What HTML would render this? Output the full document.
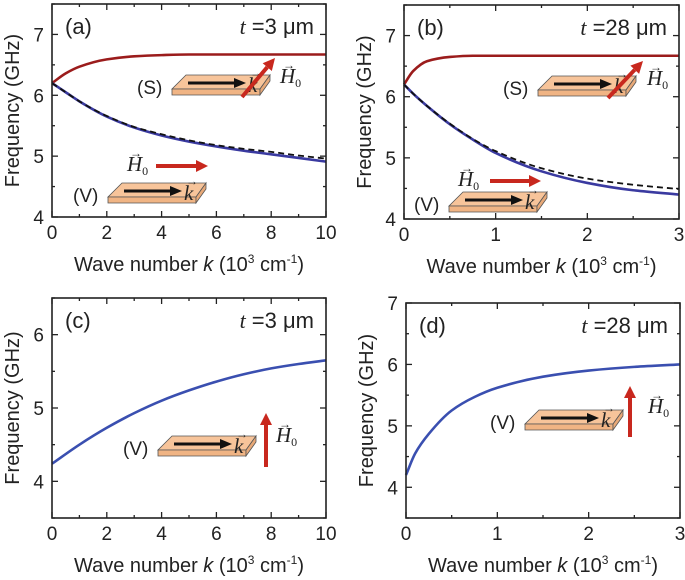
<!DOCTYPE html>
<html><head><meta charset="utf-8"><style>
body{margin:0;background:#fff}
svg{display:block;font-family:"Liberation Sans",sans-serif}
</style></head><body>
<svg id="fig" width="685" height="580" viewBox="0 0 685 580"></svg>
<script>
// Panel (a) data, t = 3 µm
const aK=[0,0.5,1,2,3,4,5,6,7,8,9,10];
const aS=[6.2,6.36,6.47,6.59,6.64,6.66,6.67,6.67,6.67,6.67,6.67,6.67];
const aV=[6.2,6.05,5.9,5.65,5.47,5.34,5.24,5.16,5.09,5.03,4.97,4.91];
const aVd=[6.2,6.05,5.9,5.66,5.48,5.36,5.26,5.18,5.12,5.07,5.01,4.96];
// Panel (b) data, t = 28 µm
const bK=[0,0.1,0.25,0.5,0.75,1,1.5,2,2.5,3];
const bS=[6.2,6.42,6.58,6.65,6.67,6.67,6.67,6.67,6.67,6.67];
const bV=[6.2,6.05,5.85,5.55,5.3,5.08,4.78,4.59,4.47,4.4];
const bVd=[6.2,6.05,5.85,5.56,5.31,5.11,4.83,4.66,4.56,4.49];
// Panel (c)
const cK=[0,1,2,3,4,5,6,7,8,9,10];
const cV=[4.24,4.5,4.73,4.93,5.1,5.24,5.36,5.46,5.54,5.6,5.65];
// Panel (d)
const dK=[0,0.1,0.25,0.5,0.75,1,1.5,2,2.5,3];
const dV=[4.2,4.55,4.87,5.25,5.47,5.62,5.8,5.9,5.96,6.0];
const xTicksA=["0","2","4","6","8","10"];
const xTicksB=["0","1","2","3"];

const NS="http://www.w3.org/2000/svg";
const svg=document.getElementById('fig');
function mk(tag,attrs,parent){const e=document.createElementNS(NS,tag);for(const k in attrs)e.setAttribute(k,attrs[k]);(parent||svg).appendChild(e);return e;}
// monotone cubic (Fritsch–Carlson) in pixel space
function smooth(p){const n=p.length,d=[],m=[];
  for(let i=0;i<n-1;i++)d.push((p[i+1][1]-p[i][1])/(p[i+1][0]-p[i][0]));
  m[0]=d[0];m[n-1]=d[n-2];
  for(let i=1;i<n-1;i++){if(d[i-1]*d[i]<=0)m[i]=0;else{const h0=p[i][0]-p[i-1][0],h1=p[i+1][0]-p[i][0];
    const w1=2*h1+h0,w2=h1+2*h0;m[i]=(w1+w2)/(w1/d[i-1]+w2/d[i]);}}
  let s=`M${p[0][0]},${p[0][1]}`;
  for(let i=0;i<n-1;i++){const h=(p[i+1][0]-p[i][0])/3;
    s+=`C${p[i][0]+h},${p[i][1]+m[i]*h} ${p[i+1][0]-h},${p[i+1][1]-m[i+1]*h} ${p[i+1][0]},${p[i+1][1]}`;}
  return s;}

function panel(o){
  const g=mk('g',{});
  
  
  const X=v=>o.L+(v-o.x0)/(o.x1-o.x0)*(o.R-o.L);
  const Y=v=>o.B-(v-o.y0)/(o.y1-o.y0)*(o.B-o.T);
  const xt=o.xticks.map(Number);const step=xt[1]-xt[0];
  for(let v=o.x0;v<=o.x1+1e-9;v+=step/2){const x=X(v);const len=(Math.abs(v/step-Math.round(v/step))<1e-6)?6:3;
    mk('line',{x1:x,x2:x,y1:o.B,y2:o.B-len,stroke:'#222','stroke-width':1.3},g);mk('line',{x1:x,x2:x,y1:o.T,y2:o.T+len,stroke:'#222','stroke-width':1.3},g);}
  for(let v=Math.ceil(o.y0*2)/2;v<=o.y1+1e-9;v+=0.5){const y=Y(v);const len=Number.isInteger(v)?6:3;
    mk('line',{x1:o.L,x2:o.L+len,y1:y,y2:y,stroke:'#222','stroke-width':1.3},g);mk('line',{x1:o.R,x2:o.R-len,y1:y,y2:y,stroke:'#222','stroke-width':1.3},g);}
  o.xticks.forEach(t=>{const e=mk('text',{x:X(+t),y:o.B+22,'text-anchor':'middle','font-size':19,fill:'#222'},g);e.textContent=t;
    });
  o.yticks.forEach(t=>{const e=mk('text',{x:o.L-8,y:Y(+t)+7,'text-anchor':'end','font-size':19,fill:'#222'},g);e.textContent=t;
    });
  const xt2=mk('text',{x:(o.L+o.R)/2,y:o.B+54,'text-anchor':'middle','font-size':20,fill:'#222'},g);
  xt2.innerHTML='Wave number <tspan font-style="italic">k</tspan> (10<tspan dy="-8" font-size="12">3</tspan><tspan dy="8"> cm</tspan><tspan dy="-8" font-size="12">-1</tspan><tspan dy="8">)</tspan>';
  
  const yt=mk('text',{transform:`translate(${o.L-33},${(o.T+o.B)/2}) rotate(-90)`,'text-anchor':'middle','font-size':20,fill:'#222'},g);
  yt.textContent='Frequency (GHz)';
  o.series.forEach(s=>{const p=mk('path',{d:smooth(s.k.map((k,i)=>[X(k),Y(s.v[i])])),fill:'none',stroke:s.c,'stroke-width':s.w||2.6,'stroke-dasharray':s.dash||'none'},g);
    });
  mk('rect',{x:o.L,y:o.T,width:o.R-o.L,height:o.B-o.T,fill:'none',stroke:'#222','stroke-width':1.6},g);
  const lab=mk('text',{x:o.L+13,y:o.T+30,'font-size':22,fill:'#222'},g);lab.textContent='('+o.id+')';
  
  const tl=mk('text',{x:o.R-12,y:o.T+30,'text-anchor':'end','font-size':22,fill:'#222'},g);
  tl.innerHTML='<tspan font-family="Liberation Serif" font-style="italic">t</tspan> ='+o.t+' μm';
  
}
panel({id:'a',L:52,R:326,T:4,B:217,x0:0,x1:10,y0:4,y1:7.5,xticks:xTicksA,yticks:["4","5","6","7"],t:'3',
  series:[{k:aK,v:aS,c:'#9b1c1c',name:'surface-mode-curve'},{k:aK,v:aV,c:'#3a3aa0',name:'volume-mode-curve'},{k:aK,v:aVd,c:'#111',w:1.8,dash:'6 4',name:'volume-mode-dashed'}]});
panel({id:'b',L:404,R:679,T:5,B:219,x0:0,x1:3,y0:4,y1:7.5,xticks:xTicksB,yticks:["4","5","6","7"],t:'28',
  series:[{k:bK,v:bS,c:'#9b1c1c',name:'surface-mode-curve'},{k:bK,v:bV,c:'#3a3aa0',name:'volume-mode-curve'},{k:bK,v:bVd,c:'#111',w:1.8,dash:'6 4',name:'volume-mode-dashed'}]});
panel({id:'c',L:52,R:326,T:298,B:518,x0:0,x1:10,y0:3.5,y1:6.5,xticks:xTicksA,yticks:["4","5","6"],t:'3',
  series:[{k:cK,v:cV,c:'#3a4fb0',name:'volume-mode-curve'}]});
panel({id:'d',L:406,R:680,T:303,B:518,x0:0,x1:3,y0:3.5,y1:7,xticks:xTicksB,yticks:["4","5","6","7"],t:'28',
  series:[{k:dK,v:dV,c:'#3a4fb0',name:'volume-mode-curve'}]});

function slab(x,y,label,name){
  const g=mk('g',{});
  mk('polygon',{points:`${x+14},${y} ${x+98},${y} ${x+88},${y+14} ${x},${y+14}`,fill:'#f7c49a',stroke:'#555','stroke-width':0.8},g);
  mk('polygon',{points:`${x},${y+14} ${x+88},${y+14} ${x+88},${y+20} ${x},${y+20}`,fill:'#f0b484',stroke:'#555','stroke-width':0.8},g);
  mk('polygon',{points:`${x+88},${y+14} ${x+98},${y} ${x+98},${y+6} ${x+88},${y+20}`,fill:'#e8a978',stroke:'#555','stroke-width':0.8},g);
  mk('line',{x1:x+16,y1:y+8,x2:x+64,y2:y+8,stroke:'#111','stroke-width':3},g);
  mk('polygon',{points:`${x+62},${y+3} ${x+74},${y+8} ${x+62},${y+13}`,fill:'#111'},g);
  const k=mk('text',{x:x+76,y:y+17,'font-size':21,'font-family':'Liberation Serif','font-style':'italic',fill:'#222'},g);k.textContent='k';
  mk('text',{x:x+78,y:y+2,'font-size':12,fill:'#222'},g).textContent='→';
  const l=mk('text',{x:x-35,y:y+19,'font-size':19,fill:'#222'},g);l.textContent=label;
}
function arrow(x1,y1,x2,y2,name){
  const g=mk('g',{});
  const a=Math.atan2(y2-y1,x2-x1),hl=12,hw=6;const bx=x2-hl*Math.cos(a),by=y2-hl*Math.sin(a);
  mk('line',{x1:x1,y1:y1,x2:bx,y2:by,stroke:'#c8281e','stroke-width':4},g);
  mk('polygon',{points:`${x2},${y2} ${bx-hw*Math.sin(a)},${by+hw*Math.cos(a)} ${bx+hw*Math.sin(a)},${by-hw*Math.cos(a)}`,fill:'#c8281e'},g);
}
function H0(x,y){const t=mk('text',{x:x,y:y,'font-size':21,'font-family':'Liberation Serif','font-style':'italic',fill:'#222'});
  t.innerHTML='H<tspan font-size="12" font-style="normal" dy="4">0</tspan>';
  mk('text',{x:x+3,y:y-14,'font-size':12,fill:'#222'}).textContent='→';}
slab(172,75,'(S)','slab-s-a');arrow(242,97,275,58,'field-arrow-s-a');H0(280,83);
slab(108,183,'(V)','slab-v-a');arrow(156,166,208,166,'field-arrow-v-a');H0(127,171);
slab(538,76,'(S)','slab-s-b');arrow(608,98,643,61,'field-arrow-s-b');H0(647,85);
slab(449,192,'(V)','slab-v-b');arrow(490,181,541,181,'field-arrow-v-b');H0(458,186);
slab(158,436,'(V)','slab-v-c');arrow(266,467,266,413,'field-arrow-v-c');H0(276,442);
slab(525,410,'(V)','slab-v-d');arrow(630,437,630,386,'field-arrow-v-d');H0(648,413);
</script>
</body></html>
